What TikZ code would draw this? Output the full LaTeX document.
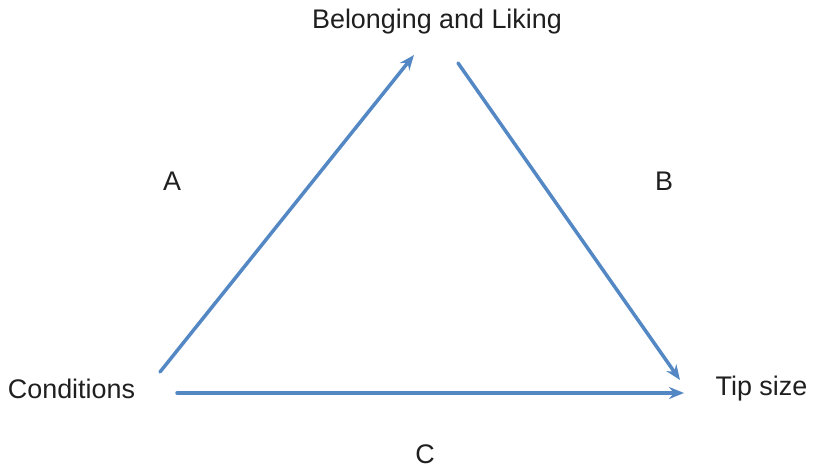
\documentclass[tikz,border=0pt]{standalone}
\usepackage{fontspec}
\setmainfont{Liberation Sans}
\usetikzlibrary{arrows.meta}
\definecolor{arrowblue}{RGB}{84,136,196}
\begin{document}
\begin{tikzpicture}[x=1bp,y=-1bp,
  lbl/.style={font=\fontsize{27}{30}\selectfont, inner sep=0pt, text=black!88},
  conn/.style={draw=arrowblue, line width=3.5bp, line cap=round, -{Stealth[length=15bp,width=12bp]}}]
\useasboundingbox (0,0) rectangle (814,469);
\node[lbl] (bl) at (437,22) {Belonging and Liking};
\node[lbl] (a) at (172,181) {A};
\node[lbl] (b) at (664,181) {B};
\node[lbl] (c) at (425,454) {C};
\node[lbl] (cond) at (71.5,389) {Conditions};
\node[lbl] (tip) at (761.5,389) {Tip size};
\coordinate (s1) at (160,372);
\coordinate (e1) at (414,55);
\coordinate (s2) at (458,63);
\coordinate (e2) at (680,380);
\coordinate (s3) at (177,393);
\coordinate (e3) at (684,393);
\draw[conn] (s1) -- (e1);
\draw[conn] (s2) -- (e2);
\draw[conn] (s3) -- (e3);
\end{tikzpicture}
\end{document}
